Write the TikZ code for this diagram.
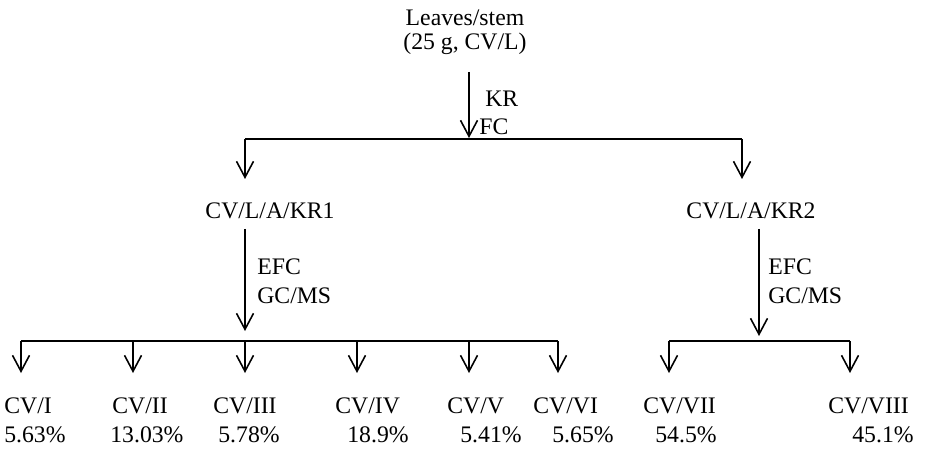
\documentclass[tikz,border=0pt]{standalone}
\usepackage{fontspec}
\setmainfont{Liberation Serif}
\usetikzlibrary{arrows.meta,positioning}

\begin{document}
\begin{tikzpicture}[x=0.02cm,y=-0.02cm]

\tikzstyle{etiq}=[inner sep=0pt, font=\fontsize{13.5}{16}\selectfont]
\tikzstyle{fleche}=[-{Straight Barb[length=0.32cm,width=0.34cm]}, line width=0.9pt]
\tikzstyle{barre}=[line width=0.9pt]

\useasboundingbox (0,0) rectangle (926,449);

%placement des noeuds
\node[etiq, anchor=base] (leaves) at (465,26) {Leaves/stem};
\node[etiq, anchor=base] (sample) at (465,50) {(25 g, CV/L)};
\node[etiq, anchor=base west] (kr) at (485,107) {KR};
\node[etiq, anchor=base west] (fc) at (479,135) {FC};
\node[etiq, anchor=base] (kra) at (270,218) {CV/L/A/KR1};
\node[etiq, anchor=base] (krb) at (751,218) {CV/L/A/KR2};
\node[etiq, anchor=base west] (efca) at (257,275) {EFC};
\node[etiq, anchor=base west] (gcmsa) at (257,303) {GC/MS};
\node[etiq, anchor=base west] (efcb) at (768,275) {EFC};
\node[etiq, anchor=base west] (gcmsb) at (768,303) {GC/MS};

\node[etiq, anchor=base west] (cv1) at (4,413) {CV/I};
\node[etiq, anchor=base west] (p1) at (4,442) {5.63\%};
\node[etiq, anchor=base west] (cv2) at (112,413) {CV/II};
\node[etiq, anchor=base west] (p2) at (110,442) {13.03\%};
\node[etiq, anchor=base west] (cv3) at (213,413) {CV/III};
\node[etiq, anchor=base west] (p3) at (218,442) {5.78\%};
\node[etiq, anchor=base west] (cv4) at (335,413) {CV/IV};
\node[etiq, anchor=base west] (p4) at (347,442) {18.9\%};
\node[etiq, anchor=base west] (cv5) at (447,413) {CV/V};
\node[etiq, anchor=base west] (p5) at (460,442) {5.41\%};
\node[etiq, anchor=base west] (cv6) at (533,413) {CV/VI};
\node[etiq, anchor=base west] (p6) at (552,442) {5.65\%};
\node[etiq, anchor=base west] (cv7) at (643,413) {CV/VII};
\node[etiq, anchor=base west] (p7) at (655,442) {54.5\%};
\node[etiq, anchor=base west] (cv8) at (828,413) {CV/VIII};
\node[etiq, anchor=base west] (p8) at (852,442) {45.1\%};

%points de jonction
\coordinate (top) at (469,72);
\coordinate (split) at (469,138);
\coordinate (splita) at (245,139);
\coordinate (splitb) at (742,139);
\coordinate (enda) at (245,179);
\coordinate (endb) at (742,179);
\coordinate (starta) at (245,229);
\coordinate (stopa) at (245,331);
\coordinate (startb) at (759,229);
\coordinate (stopb) at (759,336);
\coordinate (bara) at (21,341);
\coordinate (barb) at (558,341);
\coordinate (barc) at (669,341);
\coordinate (bard) at (850,341);

%Placement des fleches
\draw[fleche] (top) -- (split);
\draw[barre] (splita) -- (splitb);
\draw[fleche] (splita) -- (enda);
\draw[fleche] (splitb) -- (endb);

\draw[fleche] (starta) -- (stopa);
\draw[barre] (bara) -- (barb);
\draw[fleche] (21,341) -- (21,373);
\draw[fleche] (133,341) -- (133,373);
\draw[fleche] (245,341) -- (245,373);
\draw[fleche] (357,341) -- (357,373);
\draw[fleche] (469,341) -- (469,373);
\draw[fleche] (558,341) -- (558,373);

\draw[fleche] (startb) -- (stopb);
\draw[barre] (barc) -- (bard);
\draw[fleche] (669,341) -- (669,373);
\draw[fleche] (850,341) -- (850,373);
\end{tikzpicture}
\end{document}
